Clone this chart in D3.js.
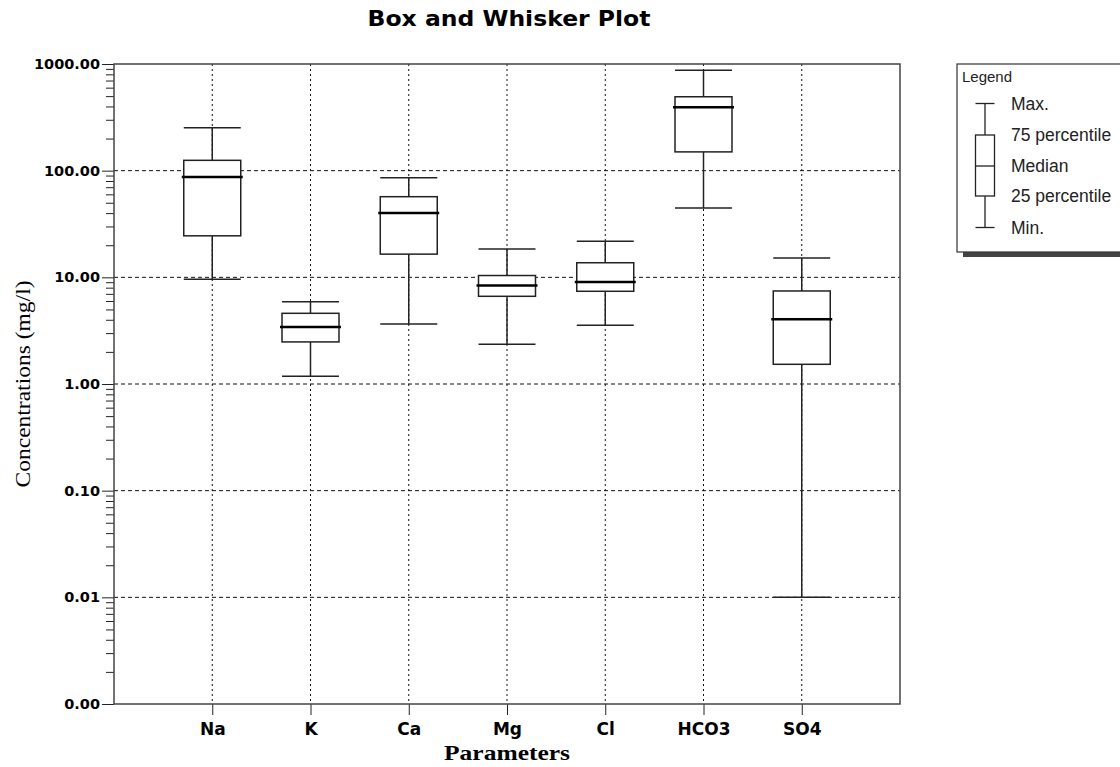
<!DOCTYPE html>
<html>
<head>
<meta charset="utf-8">
<script src="https://cdn.jsdelivr.net/npm/d3@7"></script>
<style>
  body { margin: 0; background: #fff; }
  svg { display: block; }
</style>
</head>
<body>
<div id="main"></div>
<script>
const width = 1120;
const height = 767;
const margin = { left: 114, right: 220, top: 64, bottom: 63 };

const categories = ["Na", "K", "Ca", "Mg", "Cl", "HCO3", "SO4"];
const minVals = [9.6, 1.18, 3.65, 2.36, 3.55, 44.6, 0.01];
const q1Vals = [24.5, 2.48, 16.5, 6.64, 7.4, 150, 1.53];
const medianVals = [87, 3.42, 40, 8.4, 9.04, 393, 4.05];
const q3Vals = [125, 4.6, 57, 10.4, 13.7, 493, 7.45];
const maxVals = [253, 5.9, 86, 18.4, 21.8, 875, 15.2];
const yTicks = [0.001, 0.01, 0.1, 1, 10, 100, 1000];
const legendLabels = ["Max.", "75 percentile", "Median", "25 percentile", "Min."];

const svg = d3
  .select("#main")
  .append("svg")
  .attr("width", width)
  .attr("height", height);

const x = d3
  .scaleLinear()
  .domain([0, categories.length + 1])
  .range([margin.left, width - margin.right]);
const y = d3
  .scaleLog()
  .domain([yTicks[0], yTicks[yTicks.length - 1]])
  .range([height - margin.bottom, margin.top]);

const boxW = (x(1) - x(0)) * 0.58;

// minor ticks 2..9 in each decade
let minorTicks = [];
for (let i = 0; i < yTicks.length - 1; i++) {
  for (let k = 2; k <= 9; k++) minorTicks.push(yTicks[i] * k);
}

// grid
const grid = svg.append("g").attr("class", "grid");
grid
  .selectAll(".hgrid")
  .data(yTicks.slice(1, -1))
  .enter()
  .append("line")
  .attr("x1", margin.left)
  .attr("x2", width - margin.right)
  .attr("y1", (d) => y(d))
  .attr("y2", (d) => y(d))
  .attr("stroke", "#111")
  .attr("stroke-width", 1)
  .attr("stroke-dasharray", "4,3");
grid
  .selectAll(".vgrid")
  .data(categories)
  .enter()
  .append("line")
  .attr("x1", (d, i) => x(i + 1))
  .attr("x2", (d, i) => x(i + 1))
  .attr("y1", margin.top)
  .attr("y2", height - margin.bottom)
  .attr("stroke", "#111")
  .attr("stroke-width", 1)
  .attr("stroke-dasharray", "2,3");

// axes
const yAxis = svg
  .append("g")
  .attr("transform", `translate(${margin.left},0)`)
  .call(
    d3.axisLeft(y).tickValues(yTicks).tickFormat(d3.format(".2f")).tickSize(12).tickPadding(2)
  );
yAxis.select(".domain").remove();
yAxis
  .selectAll("text")
  .attr("font-family", "DejaVu Sans")
  .attr("font-weight", "bold")
  .attr("font-size", 14.5)
  .attr("fill", "#000");
yAxis.selectAll("line").attr("stroke", "#222");

const yMinor = svg
  .append("g")
  .attr("transform", `translate(${margin.left},0)`)
  .call(d3.axisLeft(y).tickValues(minorTicks).tickFormat("").tickSize(8));
yMinor.select(".domain").remove();
yMinor.selectAll("line").attr("stroke", "#222");

const xAxis = svg
  .append("g")
  .attr("transform", `translate(0,${height - margin.bottom})`)
  .call(
    d3
      .axisBottom(x)
      .tickValues(d3.range(1, categories.length + 1))
      .tickFormat((d) => categories[d - 1])
      .tickSize(11)
      .tickPadding(8)
  );
xAxis.select(".domain").remove();
xAxis
  .selectAll("text")
  .attr("font-family", "DejaVu Sans")
  .attr("font-weight", "bold")
  .attr("font-size", 17)
  .attr("fill", "#000");
xAxis.selectAll("line").attr("stroke", "#222");

// frame
svg
  .append("rect")
  .attr("x", margin.left)
  .attr("y", margin.top)
  .attr("width", width - margin.right - margin.left)
  .attr("height", height - margin.bottom - margin.top)
  .attr("fill", "none")
  .attr("stroke", "#444")
  .attr("stroke-width", 1.5);

// boxes
const boxes = svg
  .append("g")
  .selectAll(".box")
  .data(categories)
  .enter()
  .append("g")
  .attr("class", "box");

boxes
  .append("line")
  .attr("x1", (d, i) => x(i + 1))
  .attr("x2", (d, i) => x(i + 1))
  .attr("y1", (d, i) => y(minVals[i]))
  .attr("y2", (d, i) => y(q1Vals[i]))
  .attr("stroke", "#222")
  .attr("stroke-width", 1.5);
boxes
  .append("line")
  .attr("x1", (d, i) => x(i + 1))
  .attr("x2", (d, i) => x(i + 1))
  .attr("y1", (d, i) => y(q3Vals[i]))
  .attr("y2", (d, i) => y(maxVals[i]))
  .attr("stroke", "#222")
  .attr("stroke-width", 1.5);
[minVals, maxVals].forEach((vals) => {
  boxes
    .append("line")
    .attr("x1", (d, i) => x(i + 1) - boxW / 2)
    .attr("x2", (d, i) => x(i + 1) + boxW / 2)
    .attr("y1", (d, i) => y(vals[i]))
    .attr("y2", (d, i) => y(vals[i]))
    .attr("stroke", "#222")
    .attr("stroke-width", 1.5);
});
boxes
  .append("rect")
  .attr("x", (d, i) => x(i + 1) - boxW / 2)
  .attr("y", (d, i) => y(q3Vals[i]))
  .attr("width", boxW)
  .attr("height", (d, i) => y(q1Vals[i]) - y(q3Vals[i]))
  .attr("fill", "#fff")
  .attr("stroke", "#222")
  .attr("stroke-width", 1.5);
boxes
  .append("line")
  .attr("x1", (d, i) => x(i + 1) - boxW / 2 - 2)
  .attr("x2", (d, i) => x(i + 1) + boxW / 2 + 2)
  .attr("y1", (d, i) => y(medianVals[i]))
  .attr("y2", (d, i) => y(medianVals[i]))
  .attr("stroke", "#000")
  .attr("stroke-width", 2.5);

// titles
svg
  .append("text")
  .attr("x", 509)
  .attr("y", 26)
  .attr("text-anchor", "middle")
  .attr("font-family", "DejaVu Sans")
  .attr("font-weight", "bold")
  .attr("font-size", 22)
  .attr("textLength", 283)
  .attr("lengthAdjust", "spacingAndGlyphs")
  .text("Box and Whisker Plot");

svg
  .append("text")
  .attr("x", (margin.left + width - margin.right) / 2)
  .attr("y", 760)
  .attr("text-anchor", "middle")
  .attr("font-family", "Liberation Serif")
  .attr("font-weight", "bold")
  .attr("font-size", 22)
  .attr("textLength", 126)
  .attr("lengthAdjust", "spacingAndGlyphs")
  .text("Parameters");

svg
  .append("text")
  .attr("transform", `translate(30,${(margin.top + height - margin.bottom) / 2}) rotate(-90)`)
  .attr("text-anchor", "middle")
  .attr("font-family", "Liberation Serif")
  .attr("font-size", 22)
  .attr("textLength", 207)
  .attr("lengthAdjust", "spacingAndGlyphs")
  .text("Concentrations (mg/l)");

// legend
const legend = svg.append("g").attr("class", "legend");
legend
  .append("rect")
  .attr("x", 963)
  .attr("y", 70)
  .attr("width", 200)
  .attr("height", 187)
  .attr("fill", "#444");
legend
  .append("rect")
  .attr("x", 957)
  .attr("y", 64)
  .attr("width", 200)
  .attr("height", 188)
  .attr("fill", "#fff")
  .attr("stroke", "#333")
  .attr("stroke-width", 1.2);
legend
  .append("text")
  .attr("x", 962)
  .attr("y", 82)
  .attr("font-family", "Liberation Sans")
  .attr("font-size", 15)
  .attr("fill", "#222")
  .text("Legend");

const lgY = [103.5, 135, 166, 196, 227.5];
const lgX = 985;
const lgW = 19;
legend
  .append("line")
  .attr("x1", lgX)
  .attr("x2", lgX)
  .attr("y1", lgY[0])
  .attr("y2", lgY[4])
  .attr("stroke", "#222")
  .attr("stroke-width", 1.3);
[lgY[0], lgY[4]].forEach((yy) => {
  legend
    .append("line")
    .attr("x1", lgX - lgW / 2)
    .attr("x2", lgX + lgW / 2)
    .attr("y1", yy)
    .attr("y2", yy)
    .attr("stroke", "#222")
    .attr("stroke-width", 1.3);
});
legend
  .append("rect")
  .attr("x", lgX - lgW / 2)
  .attr("y", lgY[1])
  .attr("width", lgW)
  .attr("height", lgY[3] - lgY[1])
  .attr("fill", "#fff")
  .attr("stroke", "#222")
  .attr("stroke-width", 1.3);
legend
  .append("line")
  .attr("x1", lgX - lgW / 2)
  .attr("x2", lgX + lgW / 2)
  .attr("y1", lgY[2])
  .attr("y2", lgY[2])
  .attr("stroke", "#222")
  .attr("stroke-width", 1.3);
legend
  .selectAll(".lgText")
  .data(legendLabels)
  .enter()
  .append("text")
  .attr("x", 1011)
  .attr("y", (d, i) => lgY[i])
  .attr("dy", "0.35em")
  .attr("font-family", "Liberation Sans")
  .attr("font-size", 17.5)
  .attr("fill", "#222")
  .text((d) => d);
</script>
</body>
</html>
